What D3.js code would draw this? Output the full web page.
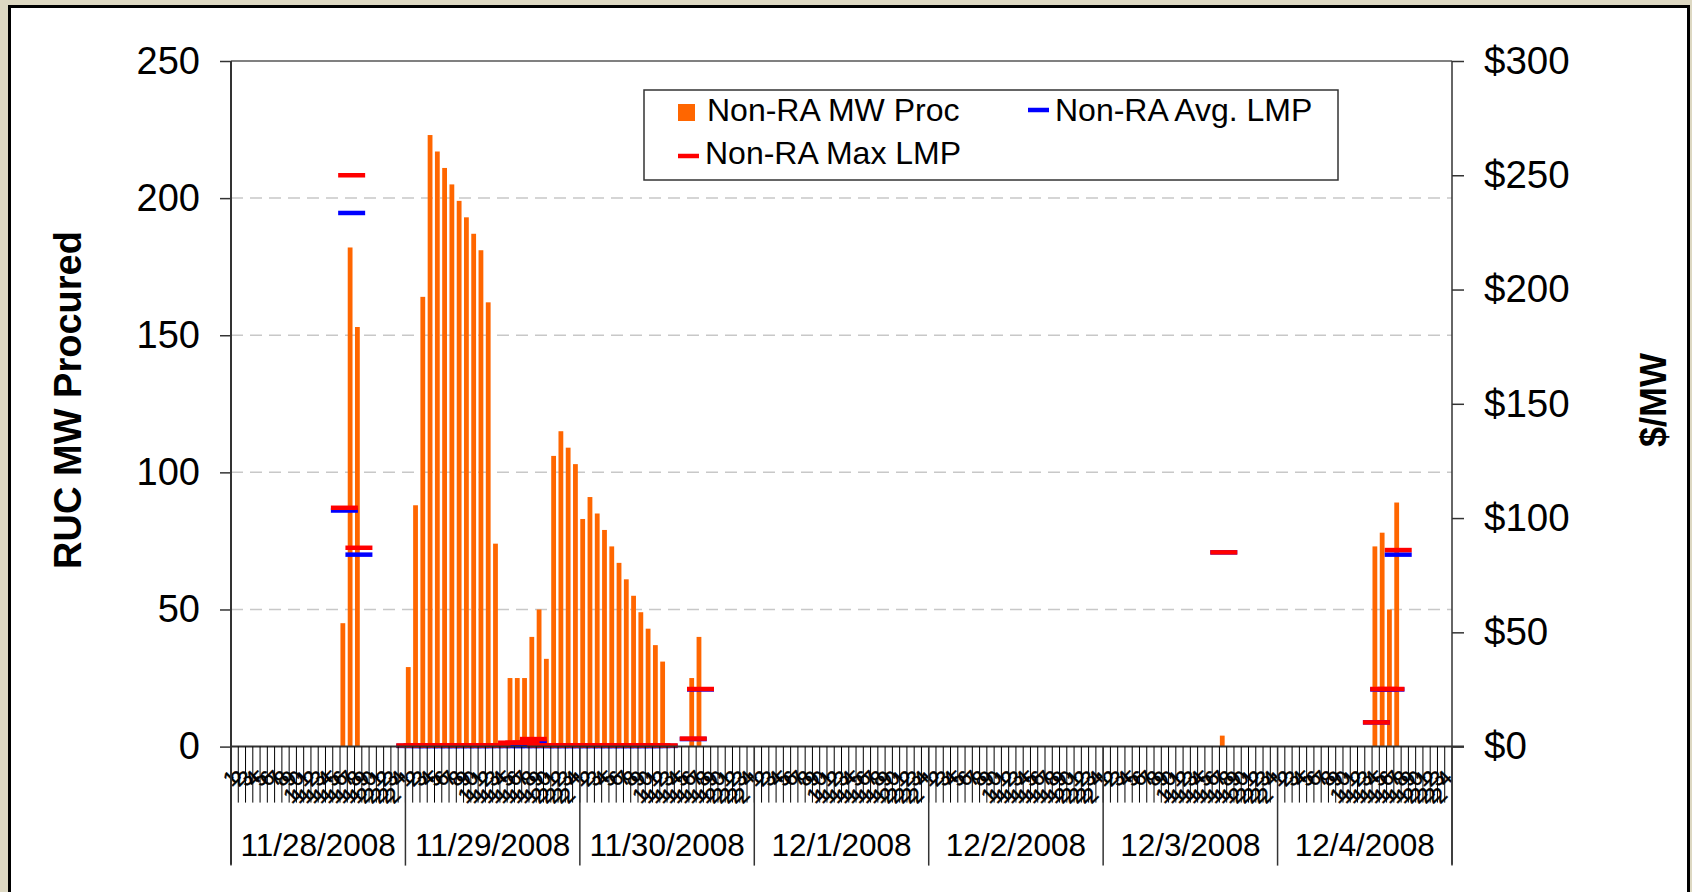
<!DOCTYPE html>
<html>
<head>
<meta charset="utf-8">
<script src="https://cdn.jsdelivr.net/npm/d3@7/dist/d3.min.js"></script>
<style>
  body { margin: 0; background: #ddd8c2; }
  svg text { font-family: "Liberation Sans", Arial, sans-serif; fill: #000; }
</style>
</head>
<body>
<div id="chart"></div>
<script>
// days on the outer category axis, hours on the inner one
var days = ["11/28/2008", "11/29/2008", "11/30/2008", "12/1/2008", "12/2/2008", "12/3/2008", "12/4/2008"];
var hourLabels = ["1", "2", "3", "4", "5", "6", "7", "8", "9", "10", "11", "12",
                  "13", "14", "15", "16", "17", "18", "19", "20", "21", "22", "23", "24"];

// Non-RA MW procured, one row per day (hours 1..24)
var mwProc = [
  0, 0, 0, 0, 0, 0, 0, 0, 0, 0, 0, 0, 0, 0, 0, 45, 182, 153, 0, 0, 0, 0, 0, 0,
  29, 88, 164, 223, 217, 211, 205, 199, 193, 187, 181, 162, 74, 0, 25, 25, 25, 40, 50, 32, 106, 115, 109, 103,
  83, 91, 85, 79, 73, 67, 61, 55, 49, 43, 37, 31, 0, 0, 0, 25, 40, 0, 0, 0, 0, 0, 0, 0,
  0, 0, 0, 0, 0, 0, 0, 0, 0, 0, 0, 0, 0, 0, 0, 0, 0, 0, 0, 0, 0, 0, 0, 0,
  0, 0, 0, 0, 0, 0, 0, 0, 0, 0, 0, 0, 0, 0, 0, 0, 0, 0, 0, 0, 0, 0, 0, 0,
  0, 0, 0, 0, 0, 0, 0, 0, 0, 0, 0, 0, 0, 0, 0, 0, 4, 0, 0, 0, 0, 0, 0, 0,
  0, 0, 0, 0, 0, 0, 0, 0, 0, 0, 0, 0, 0, 73, 78, 50, 89, 0, 0, 0, 0, 0, 0, 0
];

// Non-RA max LMP ($/MW), null = no value
var maxLmp = [
  null, null, null, null, null, null, null, null, null, null, null, null, null, null, null, 104.5, 250, 87, null, null, null, null, null, null,
  0.5, 0.5, 0.5, 0.5, 0.5, 0.5, 0.5, 0.5, 0.5, 0.5, 0.5, 0.5, 0.5, null, 1.7, 1.7, 1.7, 3.3, 0.5, 0.5, 0.5, 0.5, 0.5, 0.5,
  0.5, 0.5, 0.5, 0.5, 0.5, 0.5, 0.5, 0.5, 0.5, 0.5, 0.5, 0.5, null, null, null, 3.5, 25.2, null, null, null, null, null, null, null,
  null, null, null, null, null, null, null, null, null, null, null, null, null, null, null, null, null, null, null, null, null, null, null, null,
  null, null, null, null, null, null, null, null, null, null, null, null, null, null, null, null, null, null, null, null, null, null, null, null,
  null, null, null, null, null, null, null, null, null, null, null, null, null, null, null, null, 85, null, null, null, null, null, null, null,
  null, null, null, null, null, null, null, null, null, null, null, null, null, 10.6, 25.2, 25.2, 86, null, null, null, null, null, null, null
];

// Non-RA average LMP ($/MW)
var avgLmp = [
  null, null, null, null, null, null, null, null, null, null, null, null, null, null, null, 103.3, 233.5, 84, null, null, null, null, null, null,
  0.3, 0.3, 0.3, 0.3, 0.3, 0.3, 0.3, 0.3, 0.3, 0.3, 0.3, 0.3, 0.3, null, 0.3, 0.3, 0.3, 2.1, 0.3, 0.3, 0.3, 0.3, 0.3, 0.3,
  0.3, 0.3, 0.3, 0.3, 0.3, 0.3, 0.3, 0.3, 0.3, 0.3, 0.3, 0.3, null, null, null, 3.3, 25, null, null, null, null, null, null, null,
  null, null, null, null, null, null, null, null, null, null, null, null, null, null, null, null, null, null, null, null, null, null, null, null,
  null, null, null, null, null, null, null, null, null, null, null, null, null, null, null, null, null, null, null, null, null, null, null, null,
  null, null, null, null, null, null, null, null, null, null, null, null, null, null, null, null, 85, null, null, null, null, null, null, null,
  null, null, null, null, null, null, null, null, null, null, null, null, null, 10.6, 25, 25, 84, null, null, null, null, null, null, null
];

var mwTicks = [0, 50, 100, 150, 200, 250];
var priceTicks = [0, 50, 100, 150, 200, 250, 300];

var W = 1692, H = 892;
var margin = {top: 61, right: 240, bottom: 145.4, left: 231};
var width = W - margin.left - margin.right;
var height = H - margin.top - margin.bottom;

var svg = d3.select("#chart").append("svg")
  .attr("width", W)
  .attr("height", H);

// white panel with black frame
svg.append("rect")
  .attr("x", 9.5).attr("y", 6.5)
  .attr("width", 1679).attr("height", 900)
  .attr("fill", "#fff")
  .attr("stroke", "#000")
  .attr("stroke-width", 3);

var g = svg.append("g")
  .attr("transform", "translate(" + margin.left + "," + margin.top + ")");

var cats = d3.range(mwProc.length);
var x = d3.scaleBand().domain(cats).range([0, width]);
var slot = x.bandwidth();
var y = d3.scaleLinear().domain([0, 250]).range([height, 0]);
var y2 = d3.scaleLinear().domain([0, 300]).range([height, 0]);

// gridlines
g.selectAll("line.grid")
  .data(mwTicks.filter(function(d) { return d > 0 && d < 250; }))
  .enter().append("line")
  .attr("class", "grid")
  .attr("x1", 0).attr("x2", width)
  .attr("y1", function(d) { return y(d); })
  .attr("y2", function(d) { return y(d); })
  .attr("stroke", "#c8c8c8")
  .attr("stroke-width", 1.5)
  .attr("stroke-dasharray", "12,7");

g.append("line")
  .attr("x1", 0).attr("x2", width)
  .attr("y1", y(250)).attr("y2", y(250))
  .attr("stroke", "#808080")
  .attr("stroke-width", 2);

// bars
g.selectAll("rect.bar")
  .data(cats.filter(function(i) { return mwProc[i] > 0; }))
  .enter().append("rect")
  .attr("class", "bar")
  .attr("x", function(i) { return x(i) + slot * 0.06; })
  .attr("width", slot * 0.66)
  .attr("y", function(i) { return y(mwProc[i]); })
  .attr("height", function(i) { return height - y(mwProc[i]); })
  .attr("fill", "#ff6600");

// LMP dash markers, avg first then max on top
function drawDashes(values, color) {
  g.selectAll("line.dash-" + color.slice(1))
    .data(cats.filter(function(i) { return values[i] != null; }))
    .enter().append("line")
    .attr("class", "dash-" + color.slice(1))
    .attr("x1", function(i) { return x(i) + slot * 0.6 - 13.5; })
    .attr("x2", function(i) { return x(i) + slot * 0.6 + 13.5; })
    .attr("y1", function(i) { return y2(values[i]); })
    .attr("y2", function(i) { return y2(values[i]); })
    .attr("stroke", color)
    .attr("stroke-width", 4.5);
}
drawDashes(avgLmp, "#0000ff");
drawDashes(maxLmp, "#ff0000");

// left axis
var yAxis = d3.axisLeft(y).tickValues(mwTicks).tickSize(11).tickSizeOuter(0).tickPadding(20);
var ya = g.append("g").call(yAxis);
ya.select(".domain").remove();
ya.selectAll("line").attr("stroke", "#333").attr("stroke-width", 1.5);
ya.selectAll("text").style("font-size", "38px").attr("fill", "#000");
g.append("line")
  .attr("x1", 0).attr("x2", 0)
  .attr("y1", 0).attr("y2", height + 118)
  .attr("stroke", "#333").attr("stroke-width", 2);

// right axis
var y2Axis = d3.axisRight(y2).tickValues(priceTicks).tickSize(12).tickSizeOuter(0).tickPadding(20)
  .tickFormat(function(d) { return "$" + d; });
var yb = g.append("g").attr("transform", "translate(" + width + ",0)").call(y2Axis);
yb.select(".domain").remove();
yb.selectAll("line").attr("stroke", "#333").attr("stroke-width", 1.5);
yb.selectAll("text").style("font-size", "38.5px").attr("fill", "#000");
g.append("line")
  .attr("x1", width).attr("x2", width)
  .attr("y1", 0).attr("y2", height + 118)
  .attr("stroke", "#333").attr("stroke-width", 1.5);

// category axis: base line, hour ticks, hour labels
g.append("line")
  .attr("x1", 0).attr("x2", width + 12)
  .attr("y1", height).attr("y2", height)
  .attr("stroke", "#333").attr("stroke-width", 2);

g.selectAll("line.htick")
  .data(cats.slice(1))
  .enter().append("line")
  .attr("class", "htick")
  .attr("x1", function(i) { return x(i); })
  .attr("x2", function(i) { return x(i); })
  .attr("y1", height).attr("y2", height + 56)
  .attr("stroke", "#000").attr("stroke-width", 1);

var hl = g.selectAll("g.hlabel")
  .data(cats)
  .enter().append("g")
  .attr("class", "hlabel")
  .attr("transform", function(i) { return "translate(" + (x(i) + slot / 2) + "," + height + ")"; });

hl.each(function(i) {
  var lab = hourLabels[i % 24];
  var sel = d3.select(this);
  sel.append("text")
    .attr("x", -3).attr("y", 41)
    .attr("rotate", -45)
    .attr("stroke", "#000").attr("stroke-width", 0.5)
    .style("font-size", "21px")
    .text(lab.charAt(lab.length - 1));
  if (lab.length > 1) {
    sel.append("text")
      .attr("x", -8).attr("y", 58)
      .attr("rotate", -45)
      .attr("stroke", "#000").attr("stroke-width", 0.5)
      .style("font-size", "21px")
      .text(lab.charAt(0));
  }
});

// day separators and labels
g.selectAll("line.dsep")
  .data(d3.range(days.length + 1))
  .enter().append("line")
  .attr("class", "dsep")
  .attr("x1", function(d) { return d < days.length ? x(d * 24) : width; })
  .attr("x2", function(d) { return d < days.length ? x(d * 24) : width; })
  .attr("y1", height).attr("y2", height + 119)
  .attr("stroke", "#333").attr("stroke-width", 1.5);

g.selectAll("text.day")
  .data(days)
  .enter().append("text")
  .attr("class", "day")
  .attr("x", function(d, k) { return x(k * 24) + slot * 12; })
  .attr("y", height + 109)
  .attr("text-anchor", "middle")
  .style("font-size", "31.5px")
  .text(function(d) { return d; });

// axis titles
svg.append("text")
  .attr("transform", "translate(67,400) rotate(-90)")
  .attr("text-anchor", "middle")
  .attr("dy", "0.36em")
  .style("font-size", "38px")
  .style("font-weight", "bold")
  .text("RUC MW Procured");

svg.append("text")
  .attr("transform", "translate(1653,400) rotate(-90)")
  .attr("text-anchor", "middle")
  .attr("dy", "0.36em")
  .style("font-size", "36px")
  .style("font-weight", "bold")
  .text("$/MW");

// legend
var legend = svg.append("g").attr("transform", "translate(644,90)");
legend.append("rect")
  .attr("width", 694).attr("height", 90)
  .attr("fill", "#fff")
  .attr("stroke", "#333").attr("stroke-width", 1.5);

var legendItems = [
  {label: "Non-RA MW Proc", type: "bar", color: "#ff6600", lx: 34, ly: 31},
  {label: "Non-RA Avg. LMP", type: "dash", color: "#0000ff", lx: 384, ly: 20},
  {label: "Non-RA Max LMP", type: "dash", color: "#ff0000", lx: 34, ly: 66}
];
legendItems.forEach(function(it, k) {
  if (it.type === "bar") {
    legend.append("rect")
      .attr("x", it.lx).attr("y", it.ly - 17)
      .attr("width", 17).attr("height", 17)
      .attr("fill", it.color);
  } else {
    legend.append("line")
      .attr("x1", it.lx).attr("x2", it.lx + 21)
      .attr("y1", it.ly).attr("y2", it.ly)
      .attr("stroke", it.color).attr("stroke-width", 4.5);
  }
  legend.append("text")
    .attr("x", it.lx + (it.type === "bar" ? 29 : 27))
    .attr("y", k === 2 ? 74 : 31)
    .style("font-size", "32px")
    .text(it.label);
});
</script>
</body>
</html>
